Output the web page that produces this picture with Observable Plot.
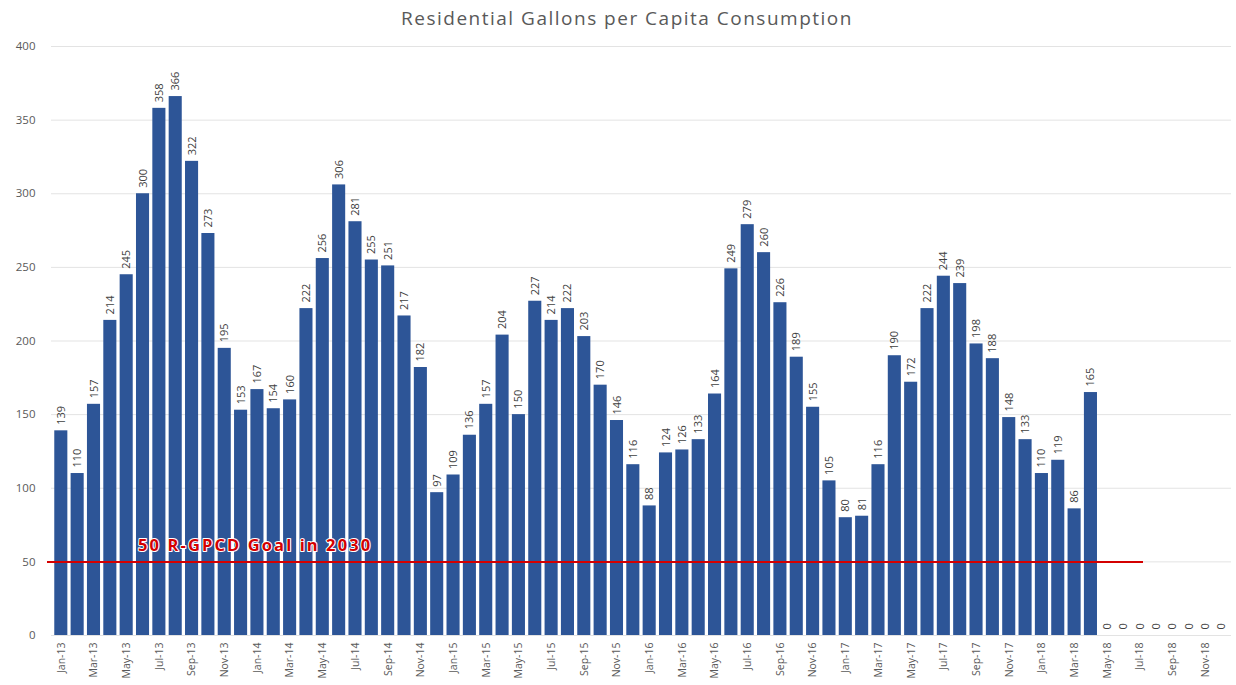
<!DOCTYPE html>
<html>
<head>
<meta charset="utf-8">
<script src="https://cdn.jsdelivr.net/npm/d3@7"></script>
<script src="https://cdn.jsdelivr.net/npm/@observablehq/plot@0.6"></script>
<style>
  body { margin: 0; background: #fff; font-family: "Open Sans", sans-serif; }
  #title {
    height: 36px; line-height: 36px; text-align: center; padding-left: 18px;
    font-size: 19px; color: #595959; letter-spacing: 1.5px; white-space: nowrap;
  }
</style>
</head>
<body>
<div id="title">Residential Gallons per Capita Consumption</div>
<div id="chart"></div>
<script>
// Month categories, Jan-13 through Dec-18
const monthAbbr = ["Jan","Feb","Mar","Apr","May","Jun","Jul","Aug","Sep","Oct","Nov","Dec"];
const years = ["13","14","15","16","17","18"];
const months = years.flatMap(y => monthAbbr.map(m => `${m}-${y}`));

// Residential gallons per capita per day, by month
const gpcd = [
  139, 110, 157, 214, 245, 300, 358, 366, 322, 273, 195, 153,
  167, 154, 160, 222, 256, 306, 281, 255, 251, 217, 182, 97,
  109, 136, 157, 204, 150, 227, 214, 222, 203, 170, 146, 116,
  88, 124, 126, 133, 164, 249, 279, 260, 226, 189, 155, 105,
  80, 81, 116, 190, 172, 222, 244, 239, 198, 188, 148, 133,
  110, 119, 86, 165, 0, 0, 0, 0, 0, 0, 0, 0
];

// Goal line
const goal = 50;
const goalLabel = "50 R-GPCD Goal in 2030";
const goalLabelMonth = "Jun-13";

// Axis ticks
const yTicks = [0, 50, 100, 150, 200, 250, 300, 350, 400];
const xTicks = months.filter((d, i) => i % 2 === 0);

const data = months.map((month, i) => ({month, value: gpcd[i]}));

const chart = Plot.plot({
  width: 1236,
  height: 649,
  marginTop: 10,
  marginBottom: 50,
  marginLeft: 51,
  marginRight: 5,
  style: {fontFamily: "Open Sans, sans-serif", background: "white", color: "#595959"},
  x: {domain: months, padding: 0.2, round: false},
  y: {domain: [0, 400]},
  marks: [
    Plot.ruleY(yTicks, {stroke: "#e3e3e3", strokeWidth: 1}),
    Plot.barY(data, {x: "month", y: "value", fill: "#2D5597"}),
    Plot.text(data, {
      x: "month", y: "value", text: d => String(d.value),
      rotate: -90, textAnchor: "start", lineAnchor: "middle",
      dy: -6, fontSize: 11, fill: "#404040"
    }),
    Plot.ruleY([goal], {stroke: "#d40000", strokeWidth: 2, insetLeft: -4, insetRight: 88}),
    Plot.text([goalLabel], {
      x: () => goalLabelMonth, y: () => goal, text: d => d,
      textAnchor: "start", dx: -5, dy: -16, fontSize: 16.5, fontWeight: "bold",
      fill: "#d40000", stroke: "white", strokeWidth: 2
    }),
    Plot.axisY({ticks: yTicks, tickSize: 0, tickPadding: 16, fontSize: 11.5, label: null, fill: "#595959"}),
    Plot.axisX(xTicks, {tickSize: 0, tickPadding: 7, tickRotate: -90, fontSize: 10.5, label: null, fill: "#595959"})
  ]
});

// Widen the goal label's lettering
d3.select(chart).selectAll("text")
  .filter(function () { return this.textContent === goalLabel; })
  .attr("letter-spacing", "2.1px");

document.getElementById("chart").appendChild(chart);
</script>
</body>
</html>
